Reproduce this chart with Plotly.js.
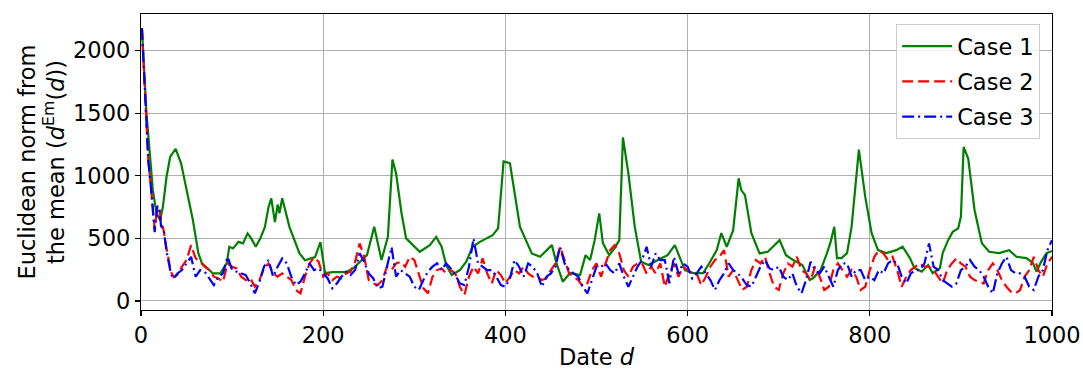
<!DOCTYPE html>
<html>
<head>
<meta charset="utf-8">
<script src="https://cdn.plot.ly/plotly-3.0.1.min.js"></script>
<style>
  html, body { margin: 0; padding: 0; background: #fff; }
  #chart { width: 1083px; height: 371px; }
</style>
</head>
<body>
<div id="chart"></div>
<script>
// ---- Data ----
const seriesNames = ["Case 1", "Case 2", "Case 3"];

const case1Days = [1, 4, 6, 10, 13, 17, 21, 24, 28, 32, 38, 44, 50, 57, 63, 67, 79, 87, 94, 97,
  101, 107, 112, 117, 121, 126, 131, 136, 140, 143, 147, 150, 152, 155, 163, 174, 180, 191, 197,
  202, 210, 225, 233, 248, 256, 264, 271, 276, 280, 286, 291, 306, 317, 324, 330, 335, 341, 350,
  357, 364, 372, 386, 392, 398, 405, 416, 429, 438, 451, 456, 463, 471, 482, 488, 493, 498, 503,
  507, 514, 520, 525, 529, 535, 542, 549, 557, 569, 578, 586, 591, 597, 606, 617, 624, 632, 637,
  643, 650, 656, 659, 663, 670, 679, 688, 701, 708, 716, 726, 734, 738, 746, 753, 757, 761, 764,
  769, 775, 780, 788, 795, 802, 809, 818, 829, 836, 844, 849, 857, 864, 869, 877, 880, 886, 891,
  897, 900, 903, 908, 915, 923, 931, 942, 953, 961, 972, 979, 983, 988, 994, 1000];
const case1Values = [2180, 1740, 1500, 1150, 885, 700, 645, 750, 990, 1150, 1215, 1100, 885, 645, 380, 300, 220, 220, 300, 433,
  420, 472, 460, 540, 500, 433, 500, 592, 750, 820, 630, 770, 700, 820, 590, 380, 325, 350, 470,
  222, 230, 230, 262, 366, 592, 327, 512, 1130, 1018, 700, 500, 393, 446, 512, 433, 287, 207, 247,
  313, 433, 472, 526, 580, 1115, 1100, 592, 380, 353, 446, 303, 154, 223, 207, 366, 327, 486, 700,
  462, 366, 422, 486, 1306, 1018, 592, 313, 287, 334, 366, 446, 353, 247, 223, 223, 303, 406, 542,
  433, 566, 980, 884, 845, 542, 380, 393, 486, 366, 327, 287, 167, 183, 247, 382, 472, 592, 343,
  343, 382, 592, 1209, 831, 542, 406, 382, 406, 433, 343, 263, 234, 287, 223, 263, 382, 486, 552,
  580, 672, 1230, 1138, 725, 462, 393, 382, 406, 353, 343, 303, 234, 313, 382, 400];

const case23Days = [1, 3, 6, 8, 11, 13, 15, 18, 20, 22, 25, 28, 30, 33, 36, 40,
  45, 50, 55, 60, 65, 70, 75, 80, 85, 90, 95, 100, 105, 110, 115, 120, 125, 130, 135, 140,
  145, 150, 155, 160, 165, 170, 175, 180, 185, 190, 195, 200, 205, 210, 215, 220, 225, 230, 235,
  240, 245, 250, 255, 260, 265, 270, 275, 280, 285, 290, 295, 300, 305, 310, 315, 320, 325, 330,
  335, 340, 345, 350, 355, 360, 365, 370, 375, 380, 385, 390, 395, 400, 405, 410, 415, 420, 425,
  430, 435, 440, 445, 450, 455, 460, 465, 470, 475, 480, 485, 490, 495, 500, 505, 510, 515, 520,
  525, 530, 535, 540, 545, 550, 555, 560, 565, 570, 575, 580, 585, 590, 595, 600, 605, 610, 615,
  620, 625, 630, 635, 640, 645, 650, 655, 660, 665, 670, 675, 680, 685, 690, 695, 700, 705, 710,
  715, 720, 725, 730, 735, 740, 745, 750, 755, 760, 765, 770, 775, 780, 785, 790, 795, 800, 805,
  810, 815, 820, 825, 830, 835, 840, 845, 850, 855, 860, 865, 870, 875, 880, 885, 890, 895, 900,
  905, 910, 915, 920, 925, 930, 935, 940, 945, 950, 955, 960, 965, 970, 975, 980, 985, 990, 995, 1000];

const case2Values = [2180, 1900, 1400, 1130, 900, 720, 580, 740, 740, 640, 560, 420, 330, 230, 190, 210,
  274, 327, 446, 340, 313, 274, 247, 194, 180, 154, 300, 274, 260, 194, 167, 180, 114, 167, 260, 300,
  220, 194, 220, 194, 167, 88, 61, 194, 300, 350, 313, 194, 220, 167, 194, 180, 220, 234, 313,
  460, 353, 167, 140, 127, 167, 274, 247, 300, 313, 274, 353, 327, 220, 101, 61, 194, 247, 260,
  220, 247, 220, 114, 48, 194, 274, 220, 340, 220, 140, 247, 207, 141, 194, 247, 220, 274, 220,
  194, 194, 167, 180, 247, 300, 433, 327, 220, 194, 167, 114, 141, 247, 300, 194, 300, 406, 446,
  380, 247, 194, 274, 300, 300, 220, 274, 220, 300, 114, 220, 300, 194, 274, 247, 220, 220, 127,
  194, 274, 327, 353, 406, 194, 247, 167, 88, 114, 247, 327, 300, 353, 220, 114, 88, 220, 300,
  274, 353, 247, 220, 167, 274, 194, 88, 114, 247, 300, 247, 194, 247, 194, 88, 114, 247, 353,
  406, 380, 327, 353, 247, 114, 194, 247, 274, 300, 274, 274, 247, 194, 140, 247, 300, 340, 300,
  274, 194, 167, 154, 140, 247, 300, 247, 167, 114, 74, 61, 88, 194, 247, 353, 247, 194, 300, 353];

const case3Values = [2180, 1870, 1360, 1120, 900, 700, 550, 760, 740, 600, 560, 400, 320, 210, 180, 220,
  247, 300, 353, 194, 247, 234, 180, 127, 194, 220, 353, 247, 234, 220, 207, 140, 61, 154, 274, 327,
  194, 274, 340, 300, 194, 127, 154, 220, 300, 247, 260, 220, 180, 101, 140, 194, 234, 207, 247,
  380, 313, 220, 180, 101, 114, 274, 430, 194, 247, 220, 194, 114, 88, 167, 234, 274, 300, 247,
  300, 260, 207, 140, 127, 274, 500, 300, 274, 247, 247, 194, 127, 114, 180, 327, 274, 194, 300,
  274, 220, 114, 194, 220, 274, 433, 300, 247, 220, 194, 114, 61, 167, 274, 274, 300, 247, 220,
  300, 194, 114, 194, 274, 327, 433, 274, 380, 327, 327, 141, 353, 220, 300, 274, 180, 220, 274,
  220, 167, 88, 167, 220, 300, 247, 220, 180, 127, 114, 194, 274, 327, 260, 247, 274, 194, 167,
  220, 114, 61, 167, 313, 247, 220, 274, 194, 114, 247, 300, 300, 194, 247, 247, 167, 194, 167,
  247, 220, 300, 327, 300, 194, 140, 220, 247, 247, 300, 460, 274, 247, 167, 140, 114, 140, 247,
  274, 327, 274, 247, 194, 114, 61, 220, 300, 353, 247, 220, 220, 194, 114, 88, 194, 247, 406, 486];

const xTickVals = [0, 200, 400, 600, 800, 1000];
const yTickVals = [0, 500, 1000, 1500, 2000];

// ---- Chart ----
const FONT = "DejaVu Sans, Liberation Sans, sans-serif";
const FS = 22.5;

const traces = [
  { x: case1Days, y: case1Values, name: seriesNames[0], legendgroup: "g1", type: "scatter", mode: "lines",
    line: { color: "#008000", width: 2.2 } },
  { x: case23Days, y: case2Values, name: seriesNames[1], legendgroup: "g2", type: "scatter", mode: "lines",
    line: { color: "#ff0000", width: 2.2, dash: "11px,5px" } },
  { x: case23Days, y: case3Values, name: seriesNames[2], legendgroup: "g3", type: "scatter", mode: "lines",
    line: { color: "#0000ff", width: 2.2, dash: "12px,4px,2px,4px" } }
];

const axisCommon = {
  showline: true, mirror: true, linecolor: "#000", linewidth: 1.2,
  ticks: "outside", ticklen: 5, tickwidth: 1.2, tickcolor: "#000",
  showgrid: true, gridcolor: "#b0b0b0", gridwidth: 1,
  zeroline: false,
  tickfont: { family: FONT, size: FS, color: "#000" }
};

const layout = {
  width: 1083, height: 371,
  margin: { l: 141, r: 31, t: 14, b: 61 },
  paper_bgcolor: "#fff", plot_bgcolor: "#fff",
  font: { family: FONT, size: FS, color: "#000" },
  showlegend: true,
  legend: {
    x: 0.987, y: 0.966, xanchor: "right", yanchor: "top",
    bgcolor: "rgba(255,255,255,0.8)", bordercolor: "#cccccc", borderwidth: 1,
    font: { family: FONT, size: FS, color: "#000" },
    traceorder: "grouped", tracegroupgap: 3, itemwidth: 50
  },
  xaxis: Object.assign({}, axisCommon, {
    range: [0, 1000], tickmode: "array", tickvals: xTickVals,
    title: { text: "Date <i>d</i>", font: { family: FONT, size: FS, color: "#000" }, standoff: 2 }
  }),
  yaxis: Object.assign({}, axisCommon, {
    range: [-72, 2292], tickmode: "array", tickvals: yTickVals,
    title: { text: "Euclidean norm from<br>the mean (<i>d</i><sup>Em</sup>(<i>d</i>))",
             font: { family: FONT, size: FS, color: "#000" }, standoff: 2 }
  })
};

Plotly.newPlot("chart", traces, layout, { displayModeBar: false, staticPlot: true });
</script>
</body>
</html>
